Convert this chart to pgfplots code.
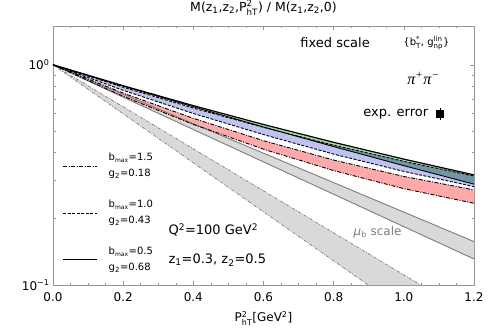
\documentclass[border=0pt]{standalone}
\usepackage{pgfplots}
\pgfplotsset{compat=1.18}
\usepackage{pgfplotstable}
\usepgfplotslibrary{fillbetween}
\usepackage{amsmath}
\usepackage{fontspec}
\setmainfont{DejaVu Sans}
\newfontfamily\serif{Liberation Serif}

\definecolor{axgray}{RGB}{150,150,150}
\definecolor{bandgray}{RGB}{217,217,217}
\definecolor{lngray}{RGB}{125,125,125}
\definecolor{bandred}{RGB}{255,170,170}
\definecolor{bandblue}{RGB}{192,194,240}
\definecolor{bandgreen}{RGB}{168,220,168}
\definecolor{bandteal}{RGB}{112,150,168}

% fixed scale bands: solid (b_max=0.5), dashed (1.0), dash-dotted (1.5)
\pgfplotstableread{
x    G1     G2     B1     B2     R1     R2
0    1      1      1      1      1      1
0.2  0.8033 0.8004 0.7911 0.7660 0.7440 0.7194
0.4  0.6523 0.6443 0.6360 0.6010 0.5711 0.5361
0.6  0.5356 0.5218 0.5197 0.4820 0.4521 0.4137
0.8  0.4445 0.4251 0.4316 0.3930 0.3693 0.3308
1.0  0.3729 0.3483 0.3643 0.3280 0.3111 0.2739
1.2  0.3163 0.2871 0.3126 0.2798 0.2704 0.2350
}\fixedtab

% mu_b scale bands
\pgfplotstableread{
x    S1     S2     D1     D2
0    1      1      1      1
0.2  0.7349 0.7129 0.6445 0.5990
0.4  0.5401 0.5082 0.4154 0.3588
0.6  0.3969 0.3623 0.2677 0.2149
0.8  0.2917 0.2583 0.1725 0.1287
1.0  0.2143 0.1841 0.1112 0.0771
1.2  0.1575 0.1313 0.0717 0.0462
}\mubtab

\newcommand{\legtext}[2]{b\textsubscript{\fontsize{6}{6}\selectfont max}=#1\\g\textsubscript{2}=#2}

\begin{document}
\begin{tikzpicture}
\begin{axis}[
  scale only axis, width=421pt, height=259pt,
  xmin=0, xmax=1.2, ymin=0.1, ymax=1.5, ymode=log,
  xtick={0,0.2,0.4,0.6,0.8,1.0,1.2},
  xticklabels={0.0,0.2,0.4,0.6,0.8,1.0,1.2},
  minor x tick num=3,
  ytick={0.1,1}, yticklabels={10\textsuperscript{−1},10\textsuperscript{0}},
  minor ytick={0.2,0.3,0.4,0.5,0.6,0.7,0.8,0.9},
  tick align=inside, major tick length=4pt, minor tick length=2.5pt,
  tick style={axgray, line width=0.5pt},
  axis line style={axgray, line width=0.6pt},
  ticklabel style={font=\fontsize{12}{12}\selectfont},
  xticklabel style={yshift=-4pt},
  xlabel={P$^{\text{2}}_{\text{hT}}$[GeV$^{\text{2}}$]},
  xlabel style={font=\fontsize{12}{12}\selectfont, yshift=-3pt},
  clip=true,
]
% bands
\addplot[draw=none, name path=G1] table[x=x, y=G1] {\fixedtab};
\addplot[draw=none, name path=G2] table[x=x, y=G2] {\fixedtab};
\addplot[draw=none, name path=B1] table[x=x, y=B1] {\fixedtab};
\addplot[draw=none, name path=B2] table[x=x, y=B2] {\fixedtab};
\addplot[draw=none, name path=R1] table[x=x, y=R1] {\fixedtab};
\addplot[draw=none, name path=R2] table[x=x, y=R2] {\fixedtab};
\addplot[draw=none, name path=S1] table[x=x, y=S1] {\mubtab};
\addplot[draw=none, name path=S2] table[x=x, y=S2] {\mubtab};
\addplot[draw=none, name path=D1] table[x=x, y=D1] {\mubtab};
\addplot[draw=none, name path=D2] table[x=x, y=D2] {\mubtab};

\addplot[fill=bandgray, draw=none] fill between[of=D1 and D2];
\addplot[fill=bandgray, draw=none] fill between[of=S1 and S2];
\addplot[fill=bandred, draw=none] fill between[of=R1 and R2];
\addplot[fill=bandblue, draw=none] fill between[of=B1 and B2];
\addplot[fill=bandgreen, draw=none] fill between[of=G1 and G2];
\addplot[fill=bandteal, draw=none] fill between[of=B1 and G2, soft clip={(axis cs:0.642,0.1) rectangle (axis cs:1.2,1.5)}];

% lines
\addplot[lngray, line width=0.7pt, dash pattern=on 3pt off 1.5pt on 0.8pt off 1.5pt] table[x=x, y=D1] {\mubtab};
\addplot[lngray, line width=0.7pt, dash pattern=on 3pt off 1.5pt on 0.8pt off 1.5pt] table[x=x, y=D2] {\mubtab};
\addplot[lngray, line width=0.9pt] table[x=x, y=S1] {\mubtab};
\addplot[lngray, line width=0.9pt] table[x=x, y=S2] {\mubtab};
\addplot[black, line width=0.9pt, dash pattern=on 4pt off 1.5pt on 1pt off 1.5pt] table[x=x, y=R1] {\fixedtab};
\addplot[black, line width=0.9pt, dash pattern=on 4pt off 1.5pt on 1pt off 1.5pt] table[x=x, y=R2] {\fixedtab};
\addplot[black, line width=0.9pt, dash pattern=on 3pt off 1.5pt] table[x=x, y=B1] {\fixedtab};
\addplot[black, line width=0.9pt, dash pattern=on 3pt off 1.5pt] table[x=x, y=B2] {\fixedtab};
\addplot[black, line width=1.2pt] table[x=x, y=G1] {\fixedtab};
\addplot[black, line width=0.9pt] table[x=x, y=G2] {\fixedtab};

% experimental error
\addplot[black, only marks, mark=square*, mark size=3.3pt,
  error bars/.cd, y dir=both, y explicit, error bar style={line width=0.6pt}, error mark=none]
  coordinates {(1.103,0.599) +- (0,0.035)};

% annotations
\node[font=\fontsize{13}{13}\selectfont] at (axis description cs:0.670,0.934) {fixed scale};
\node[font=\fontsize{10}{10}\selectfont] at (axis description cs:0.887,0.934)
  {\{b$^{\text{*}}_{\text{T}}$, g$^{\text{lin}}_{\text{np}}$\}};
\node[font=\fontsize{16}{16}\selectfont\serif\itshape] at (axis description cs:0.880,0.799)
  {π\textsuperscript{+}π\textsuperscript{−}};
\node[font=\fontsize{13}{13}\selectfont] at (axis description cs:0.814,0.660) {exp. error};
\node[font=\fontsize{13}{13}\selectfont, anchor=west] at (axis description cs:0.266,0.212) {Q\textsuperscript{2}=100 GeV\textsuperscript{2}};
\node[font=\fontsize{13}{13}\selectfont, anchor=west] at (axis description cs:0.266,0.097) {z\textsubscript{1}=0.3, z\textsubscript{2}=0.5};
\node[font=\fontsize{12}{12}\selectfont, text=lngray] at (axis description cs:0.771,0.205) {\textit{μ}\textsubscript{b} scale};

\draw[black, line width=0.9pt, dash pattern=on 4pt off 1.5pt on 1pt off 1.5pt]
  (axis description cs:0.024,0.459) -- (axis description cs:0.105,0.459);
\draw[black, line width=0.9pt, dash pattern=on 3pt off 1.5pt]
  (axis description cs:0.024,0.278) -- (axis description cs:0.105,0.278);
\draw[black, line width=0.9pt]
  (axis description cs:0.024,0.097) -- (axis description cs:0.105,0.097);
\node[font=\fontsize{10}{16}\selectfont, anchor=west, align=left] at (axis description cs:0.124,0.459) {\legtext{1.5}{0.18}};
\node[font=\fontsize{10}{16}\selectfont, anchor=west, align=left] at (axis description cs:0.124,0.278) {\legtext{1.0}{0.43}};
\node[font=\fontsize{10}{16}\selectfont, anchor=west, align=left] at (axis description cs:0.124,0.097) {\legtext{0.5}{0.68}};
\end{axis}
\node[font=\fontsize{12.5}{12.5}\selectfont, anchor=south] at ([yshift=7pt]current axis.north)
  {M(z\textsubscript{1},z\textsubscript{2},P$^{\text{2}}_{\text{hT}}$) / M(z\textsubscript{1},z\textsubscript{2},0)};
\pgfresetboundingbox
\path[use as bounding box] ([shift={(-53pt,-44pt)}]current axis.south west)
  rectangle ([shift={(24pt,26pt)}]current axis.north east);
\end{tikzpicture}
\end{document}
